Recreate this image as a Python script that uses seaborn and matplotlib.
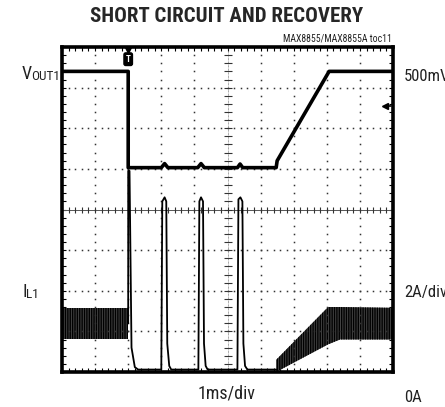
import numpy as np
import pandas as pd
import matplotlib
matplotlib.use("Agg")
import matplotlib.pyplot as plt
import seaborn as sns

# ---- data (screen divisions: x 0..10, y 0..8) ----
vout_t = [0.0, 2.0, 2.0, 2.1, 3.0, 3.1, 3.2, 4.1, 4.2, 4.3, 5.3, 5.38, 5.46, 6.47, 6.5, 8.07, 10.0]
vout_y = [7.40, 7.40, 5.03, 5.03, 5.03, 5.13, 5.03, 5.03, 5.13, 5.03, 5.03, 5.12, 5.03, 5.03, 5.2, 7.40, 7.40]

il_t = [2.0, 2.0, 2.04, 2.1, 2.2, 2.3, 3.0, 3.03, 3.1, 3.15, 3.18, 3.24, 3.3,
        4.12, 4.15, 4.2, 4.26, 4.29, 4.34, 4.4,
        5.3, 5.33, 5.39, 5.45, 5.48, 5.53, 5.6, 6.47]
il_y = [1.2, 4.95, 4.95, 0.6, 0.12, 0.06, 0.06, 4.2, 4.3, 4.2, 0.7, 0.15, 0.06,
        0.06, 4.2, 4.3, 4.2, 0.7, 0.15, 0.06,
        0.06, 4.25, 4.3, 4.2, 0.7, 0.15, 0.06, 0.06]

band1_t = [0.0, 2.0]
band1_lo = [0.82, 0.82]
band1_hi = [1.58, 1.58]

band2_t = [6.47, 8.04, 8.4, 10.0]
band2_lo = [0.0, 0.68, 0.8, 0.8]
band2_hi = [0.3, 1.6, 1.6, 1.58]

title = "SHORT CIRCUIT AND RECOVERY"
subtitle = "MAX8855/MAX8855A toc11"
x_label = "1ms/div"
ch1_scale = "500mV/div"
ch2_scale = "2A/div"
ch2_zero = "0A"

sns.set_style("white")
plt.rcParams['font.family'] = ['Liberation Sans Narrow', 'Roboto Condensed', 'Roboto', 'DejaVu Sans']

W, H = 445, 407
fig = plt.figure(figsize=(W / 100, H / 100), dpi=100)
ax = fig.add_axes([62 / W, 1 - 372 / H, 331 / W, 325 / H])
ax.set_xlim(0, 10)
ax.set_ylim(0, 8)

# grid of dots
minor = np.arange(0, 10.01, 0.2)
minor_y = np.arange(0, 8.01, 0.2)
for gx in range(1, 10):
    if gx == 5:
        continue
    ax.plot([gx] * len(minor_y), minor_y, ls='none', marker='s', ms=1.1, color='#333333', mew=0)
for gy in range(1, 8):
    if gy == 4:
        continue
    ax.plot(minor, [gy] * len(minor), ls='none', marker='s', ms=1.1, color='#333333', mew=0)
# centre cross with ticks
ax.axhline(4, color='#555555', lw=0.7)
ax.axvline(5, color='#555555', lw=0.5, ls=(0, (1, 1)))
ax.plot(minor, [4] * len(minor), ls='none', marker='|', ms=5, color='#333333', mew=0.8)
ax.plot([5] * len(minor_y), minor_y, ls='none', marker='_', ms=6, color='#333333', mew=0.8)

# ticks along border
ax.set_xticks(np.arange(0, 10.01, 1))
ax.set_xticks(minor, minor=True)
ax.set_yticks(np.arange(0, 8.01, 1))
ax.set_yticks(minor_y, minor=True)
ax.tick_params(which='both', direction='in', length=3, width=0.8, color='black',
               top=True, right=True, bottom=True, left=True,
               labelbottom=False, labelleft=False)
for s in ax.spines.values():
    s.set_linewidth(2.6)
    s.set_color('black')
    s.set_visible(True)

# current ripple bands
ax.fill_between(band1_t, band1_lo, band1_hi, facecolor='#444444', edgecolor='black',
                hatch='|||||||', linewidth=0)
ax.fill_between(band2_t, band2_lo, band2_hi, facecolor='#444444', edgecolor='black',
                hatch='|||||||', linewidth=0)

# traces
dv = pd.DataFrame({'t': vout_t, 'v': vout_y})
di = pd.DataFrame({'t': il_t, 'i': il_y})
sns.lineplot(data=dv, x='t', y='v', sort=False, estimator=None, color='black', lw=2.6, ax=ax)
sns.lineplot(data=di, x='t', y='i', sort=False, estimator=None, color='black', lw=1.3, ax=ax)
ax.set_xlabel('')
ax.set_ylabel('')

# trigger marker
ax.plot(2.0, 7.93, marker='v', color='black', ms=5, clip_on=False)
ax.text(2.0, 7.7, 'T', color='white', ha='center', va='center', fontsize=6.5, fontweight='bold',
        bbox=dict(boxstyle='round,pad=0.2', fc='black', ec='black'))
# ground reference arrow on right
ax.plot([9.75, 9.95], [6.55, 6.55], color='black', lw=1.2)
ax.plot(9.75, 6.55, marker='<', color='black', ms=4)

# texts
def fx(px):
    return px / W

def fy(py):
    return 1 - py / H

fig.text(fx(227), fy(16), title, ha='center', va='center', fontsize=15, fontweight='heavy')
fig.text(fx(392), fy(39), subtitle, ha='right', va='center', fontsize=7, color='#222222')
fig.text(fx(227), fy(393), x_label, ha='center', va='center', fontsize=13, color='#222222')
fig.text(fx(404), fy(76), ch1_scale, ha='left', va='center', fontsize=12, color='#222222')
fig.text(fx(404), fy(292), ch2_scale, ha='left', va='center', fontsize=12, color='#222222')
fig.text(fx(404), fy(397), ch2_zero, ha='left', va='center', fontsize=12, color='#222222')
fig.text(fx(22), fy(74), 'V', ha='left', va='center', fontsize=13, color='#222222')
fig.text(fx(31), fy(77), 'OUT1', ha='left', va='center', fontsize=9.5, color='#222222')
fig.text(fx(22), fy(292), 'I', ha='left', va='center', fontsize=13, color='#222222')
fig.text(fx(26), fy(295), 'L1', ha='left', va='center', fontsize=9.5, color='#222222')

fig.savefig('out.png', dpi=100)
